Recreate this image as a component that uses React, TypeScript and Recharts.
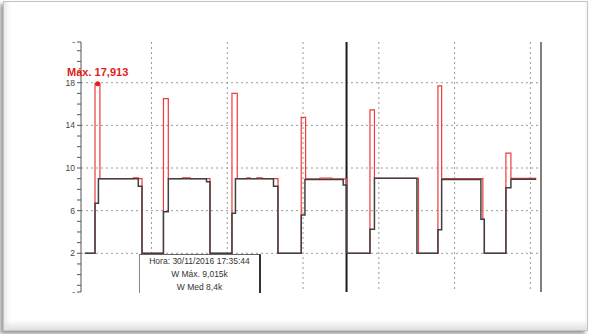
import React from 'react';
import { LineChart, Line, XAxis, YAxis, CartesianGrid, ReferenceLine, ReferenceDot } from 'recharts';

// time (grid every 10 units), W Med (black) and W Max (red), step-after values
const times = [
  1.2, 2.55, 3.0, 3.2, 7.6, 8.26, 8.75,
  11.58, 12.22, 14.1, 15.1, 17.26, 17.72,
  20.62, 21.08, 21.32, 22.6, 23.0, 23.9, 24.6, 26.1, 26.69,
  29.76, 30.25, 30.34, 32.23, 33.8, 35.3, 35.74,
  38.83, 39.42, 45.03, 45.23,
  47.8, 48.29, 53.47, 53.73, 53.92,
  56.77, 57.43, 60.77,
];
const wMed = [
  2, 6.7, 9.0, 9.0, 9.0, 8.3, 2,
  5.9, 9.0, 9.0, 9.0, 8.7, 2,
  5.75, 9.0, 9.0, 9.0, 9.0, 9.0, 9.0, 8.3, 2,
  5.6, 8.92, 8.92, 8.92, 8.92, 8.4, 2,
  4.25, 9.03, 2, 2,
  4.2, 8.92, 5.2, 5.2, 2,
  8.15, 8.95, 8.95,
];
const wMax = [
  2, 17.913, 17.913, 9.0, 9.07, 9.0, 2,
  16.5, 9.0, 9.07, 9.0, 9.0, 2,
  17.0, 17.0, 9.0, 9.07, 9.0, 9.07, 9.0, 9.0, 2,
  14.75, 14.75, 8.98, 9.05, 8.98, 8.98, 2,
  15.45, 9.03, 9.03, 2,
  17.7, 9.0, 9.0, 5.2, 2,
  11.4, 9.02, 9.02,
];

const yTicks = [-1.63, -1, 0, 1, 2, 3, 4, 5, 6, 7, 8, 9, 10, 11, 12, 13, 14, 15, 16, 17, 18, 19, 20, 21, 21.82];
const yLabels = [2, 6, 10, 14, 18];
const xGrid = [10, 20, 30, 40, 50, 60];

const maxPoint = { t: 2.9, value: 17.913, label: 'Máx. 17,913' };
const cursorTime = 35.74;
const cursorInfo = ['Hora: 30/11/2016 17:35:44', 'W Máx. 9,015k', 'W Med 8,4k'];

const data = times.map((t, i) => ({ t, med: wMed[i], max: wMax[i] }));

const YTick = (props: any) => {
  const { x, y, payload } = props;
  const v = payload.value;
  let text = '';
  if (yLabels.includes(v)) text = String(v);
  else if (v === yTicks[0] || v === yTicks[yTicks.length - 1]) text = '-';
  if (!text) return null;
  return (
    <text x={x} y={y} dy={3} textAnchor="end" fontSize={8.5} fill="#444">
      {text}
    </text>
  );
};

const App = () => {
  return (
    <div style={{ position: 'absolute', left: 0, top: 0, width: 590, height: 334, background: '#fff', fontFamily: '"Liberation Sans", Arial, sans-serif' }}>
      <div
        style={{
          position: 'absolute', left: 3, top: 1, width: 583, height: 328,
          border: '1px solid #c4c4c4',
          boxShadow: '-3px 3px 4px rgba(0,0,0,0.4), inset 2px -5px 6px rgba(0,0,0,0.12)',
        }}
      />
      <div style={{ position: 'absolute', left: 0, top: 0 }}>
        <LineChart width={590} height={334} data={data} margin={{ top: 42, right: 49, bottom: 42, left: 51 }}>
          <CartesianGrid
            stroke="#9a9a9a"
            strokeDasharray="2 3"
            horizontalValues={yLabels}
            verticalValues={xGrid}
          />
          <XAxis dataKey="t" type="number" domain={[0.7, 61.4]} hide />
          <YAxis
            type="number"
            domain={[-1.63, 21.82]}
            ticks={yTicks}
            width={30}
            tickSize={4}
            tickMargin={2}
            interval={0}
            stroke="#555"
            tick={<YTick />}
          />
          <ReferenceLine x={61.4} stroke="#555" strokeWidth={1.5} />
          <ReferenceLine x={cursorTime} stroke="#1a1a1a" strokeWidth={2} />
          <Line
            type="stepAfter"
            dataKey="max"
            stroke="#ee3b3b"
            strokeWidth={1.2}
            dot={false}
            isAnimationActive={false}
          />
          <Line
            type="stepAfter"
            dataKey="med"
            stroke="#404040"
            strokeWidth={1.5}
            dot={false}
            isAnimationActive={false}
          />
          <ReferenceDot
            x={maxPoint.t}
            y={maxPoint.value}
            r={2.5}
            fill="#e02020"
            stroke="none"
            label={{ value: maxPoint.label, position: 'top', fill: '#e02020', fontSize: 11, fontWeight: 'bold' }}
          />
        </LineChart>
      </div>
      <div
        style={{
          position: 'absolute', left: 139, top: 254, width: 119, height: 38,
          background: '#fff',
          borderLeft: '1px solid #888', borderTop: '1px solid #666', borderRight: '2px solid #333',
          textAlign: 'center', fontSize: 8.5, lineHeight: '13px', color: '#333',
        }}
      >
        {cursorInfo.map((s) => (
          <div key={s}>{s}</div>
        ))}
      </div>
    </div>
  );
};

export default App;
